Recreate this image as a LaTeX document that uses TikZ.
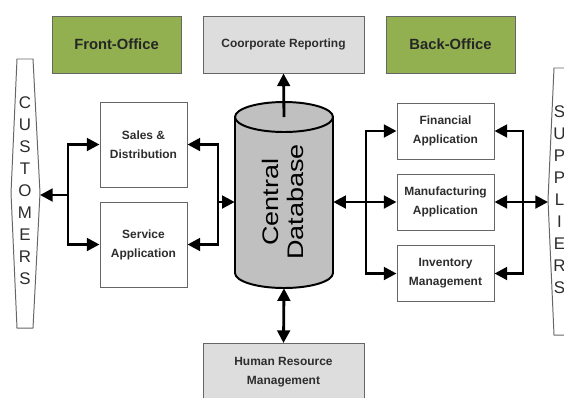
\documentclass[tikz,border=0pt]{standalone}
\usepackage{fontspec}
\setmainfont{Liberation Sans}
\usepackage{graphicx}
\usetikzlibrary{arrows.meta, positioning, calc}
\definecolor{office}{RGB}{146,176,80}
\definecolor{report}{RGB}{221,221,221}
\definecolor{dbgray}{RGB}{192,192,192}
\definecolor{label}{RGB}{45,45,45}
\newcommand\pxu{0.025cm}

\begin{document}
\begin{tikzpicture}[x=0.025cm,y=-0.025cm,
		box/.style={draw=black!60,line width=0.7pt,fill=white,align=center,inner sep=0pt,
			text=label,font=\bfseries\fontsize{8.5}{13.5}\selectfont},
		officebox/.style={box,fill=office,text=black!85,font=\bfseries\fontsize{10.5}{12}\selectfont,
			minimum width=129*\pxu,minimum height=57*\pxu},
		greybox/.style={box,fill=report,minimum width=161*\pxu,minimum height=57*\pxu},
		appbox/.style={box,minimum width=97*\pxu,minimum height=56*\pxu},
		frontbox/.style={box,minimum width=87*\pxu,minimum height=85*\pxu},
		letters/.style={align=center,inner sep=0pt,text=label,font=\fontsize{12}{15.65}\selectfont},
		party/.style={draw=black!60,line width=0.7pt,fill=white},
		link/.style={line width=2pt,-{Triangle[length=9pt,width=9pt]}},
		dlink/.style={line width=2pt,{Triangle[length=9pt,width=9pt]}-{Triangle[length=9pt,width=9pt]}}]
	\useasboundingbox (0,0) rectangle (564,397);
	% top row
	\node[officebox] (front) at (116.5,44.5) {Front-Office};
	\node[greybox] (corp) at (283.5,44.5) {Coorporate Reporting};
	\node[officebox] (back) at (450.5,44.5) {Back-Office};
	% front office applications
	\node[frontbox] (sales) at (143.5,144.5) {Sales \&\\Distribution};
	\node[frontbox] (service) at (143.5,244.5) {Service\\Application};
	% back office applications
	\node[appbox] (fin) at (445.5,131) {Financial\\Application};
	\node[appbox] (manu) at (445.5,202) {Manufacturing\\Application};
	\node[appbox] (inv) at (445.5,273.5) {Inventory\\Management};
	% bottom
	\node[greybox] (hr) at (283.5,372) {Human Resource\\Management};
	% central database
	\filldraw[fill=dbgray,line width=1.4pt] (235,117) -- (235,273)
		arc[start angle=180,end angle=0,x radius=49,y radius=15] -- (333,117)
		arc[start angle=0,end angle=-180,x radius=49,y radius=15] -- cycle;
	\draw[line width=1.4pt] (333,117) arc[start angle=0,end angle=180,x radius=49,y radius=15];
	\node[minimum width=98*\pxu,minimum height=186*\pxu,inner sep=0pt] (db) at (284,195) {};
	\coordinate (dbtop) at (284,117);
	\node[rotate=90,align=center,inner sep=0pt,font=\fontsize{16}{17.8}\selectfont] (dbtext) at (282.5,202)
		{\scalebox{1.2}[1]{Central}\\\scalebox{1.2}[1]{Database}};
	% customers and suppliers
	\draw[party] (17,59) -- (33,59) -- (40,193) -- (33,328) -- (17,328) -- (11,193) -- cycle;
	\node[letters] (cust) at (25,191) {C\\U\\S\\T\\O\\M\\E\\R\\S};
	\draw[party] (554,68) -- (580,68) -- (580,335) -- (554,335) -- (548,200) -- cycle;
	\node[letters] (supp) at (559.5,200) {S\\U\\P\\P\\L\\I\\E\\R\\S};
	\coordinate (custtip) at (40,195);
	\coordinate (supptip) at (548,202);
	% junctions
	\coordinate (lbar) at (68,195);
	\coordinate (ilbar) at (218,202);
	\coordinate (irbar) at (366,202);
	\coordinate (rbar) at (523,202);
	% connectors left
	\draw[link] (lbar) -- (custtip);
	\draw[link] (lbar) |- (sales.west);
	\draw[link] (lbar) |- (service.west);
	\draw[link] (ilbar) |- (sales.east);
	\draw[link] (ilbar) |- (service.east);
	\draw[link] (ilbar) -- (ilbar -| db.west);
	% connectors right
	\draw[link] (irbar) -- (irbar -| db.east);
	\draw[link] (irbar) |- (fin.west);
	\draw[link] (irbar) -- (manu.west);
	\draw[link] (irbar) |- (inv.west);
	\draw[link] (rbar) |- (fin.east);
	\draw[link] (rbar) -- (manu.east);
	\draw[link] (rbar) |- (inv.east);
	\draw[link] (rbar) -- (supptip);
	% connectors top and bottom
	\draw[link] (dbtop) -- (corp.south);
	\draw[dlink] (db.south) -- (hr.north);
\end{tikzpicture}
\end{document}
